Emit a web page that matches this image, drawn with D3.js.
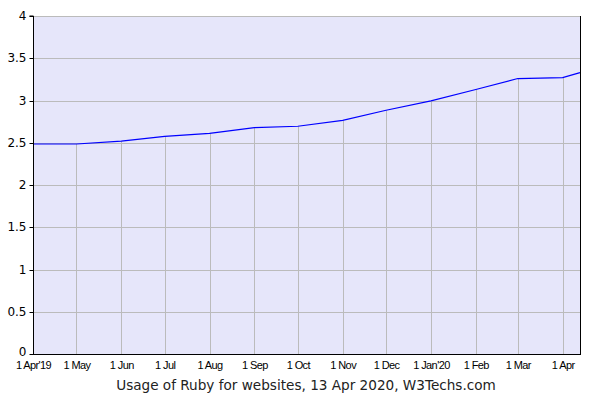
<!DOCTYPE html>
<html><head><meta charset="utf-8">
<script src="https://cdn.jsdelivr.net/npm/d3@7"></script>
<style>body{margin:0;background:#fff}svg{display:block}</style>
</head><body><svg id="c" width="600" height="400"></svg>
<script>
const dates = ["2019-04-01","2019-05-01","2019-06-01","2019-07-01","2019-08-01","2019-09-01","2019-10-01","2019-11-01","2019-12-01","2020-01-01","2020-02-01","2020-03-01","2020-04-01","2020-04-13"];
const values = [2.485,2.485,2.52,2.575,2.61,2.68,2.695,2.765,2.885,2.995,3.13,3.26,3.27,3.33];
const tickDates = ["2019-04-01","2019-05-01","2019-06-01","2019-07-01","2019-08-01","2019-09-01","2019-10-01","2019-11-01","2019-12-01","2020-01-01","2020-02-01","2020-03-01","2020-04-01"];
const tickLabels = ["1 Apr'19","1 May","1 Jun","1 Jul","1 Aug","1 Sep","1 Oct","1 Nov","1 Dec","1 Jan'20","1 Feb","1 Mar","1 Apr"];
const yTicks = [0,0.5,1,1.5,2,2.5,3,3.5,4];
const yTickLabels = ["0","0.5","1","1.5","2","2.5","3","3.5","4"];
const title = "Usage of Ruby for websites, 13 Apr 2020, W3Techs.com";

const parse = d3.utcParse("%Y-%m-%d");
const data = dates.map((d,i)=>({date:parse(d), v:values[i]}));
const svg = d3.select("#c");
const L=33, R=580, T=16, B=354;
const x = d3.scaleUtc().domain([parse("2019-04-01"), parse("2020-04-13")]).range([L,R]);
const y = d3.scaleLinear().domain([0,4]).range([B,T]);

svg.append("rect").attr("x",L).attr("y",T).attr("width",R-L).attr("height",B-T).attr("fill","#e6e6fa");

// horizontal grid
svg.append("g").selectAll("line").data(yTicks).join("line")
  .attr("x1",L).attr("x2",R).attr("y1",d=>Math.round(y(d))+0.5).attr("y2",d=>Math.round(y(d))+0.5)
  .attr("stroke","#bbbbbb").attr("stroke-width",1);

// drop lines from data points
const byTime = new Map(data.map(d=>[+d.date,d.v]));
svg.append("g").selectAll("line").data(tickDates.slice(1)).join("line")
  .attr("x1",d=>Math.round(x(parse(d)))+0.5).attr("x2",d=>Math.round(x(parse(d)))+0.5)
  .attr("y1",B).attr("y2",d=>y(byTime.get(+parse(d))))
  .attr("stroke","#bbbbbb").attr("stroke-width",1);

// line
svg.append("path").datum(data)
  .attr("d", d3.line().x(d=>x(d.date)).y(d=>y(d.v)))
  .attr("fill","none").attr("stroke","#0000ff").attr("stroke-width",1.2);

// y axis
const yAxis = d3.axisLeft(y).tickValues(yTicks).tickFormat((d,i)=>yTickLabels[i]).tickSize(4).tickPadding(3);
const gy = svg.append("g").attr("transform",`translate(${L+0.5},0)`).call(yAxis);
gy.select(".domain").attr("stroke","#000").attr("d",`M-4,${T}H0V${B}`);
gy.selectAll(".tick line").attr("stroke","#000");
gy.selectAll(".tick text").attr("font-family","DejaVu Sans, Verdana, sans-serif").attr("font-size",12).attr("fill","#000");
gy.selectAll(".tick").attr("transform",d=>`translate(0,${Math.round(y(d))+0.5})`);
gy.selectAll(".tick text").filter(d=>d===0).attr("dy","0.1em");

// x axis
const xAxis = d3.axisBottom(x).tickValues(tickDates.map(parse)).tickFormat((d,i)=>tickLabels[i]).tickSize(0).tickPadding(7);
const gx = svg.append("g").attr("transform",`translate(0,${B+0.5})`).call(xAxis);
gx.select(".domain").attr("stroke","#000").attr("d",`M${L},0H${R}`);
gx.selectAll(".tick text").attr("font-family","Liberation Sans, Arial, sans-serif").attr("font-size",11)
  .attr("letter-spacing","-0.6").attr("fill","#000");

// right border
svg.append("line").attr("x1",R+0.5).attr("x2",R+0.5).attr("y1",T).attr("y2",B+1).attr("stroke","#000");

svg.append("text").attr("x",306).attr("y",390).attr("text-anchor","middle")
  .attr("font-family","DejaVu Sans, Verdana, sans-serif").attr("font-size",13.6).attr("fill","#222").text(title);
</script></body></html>
